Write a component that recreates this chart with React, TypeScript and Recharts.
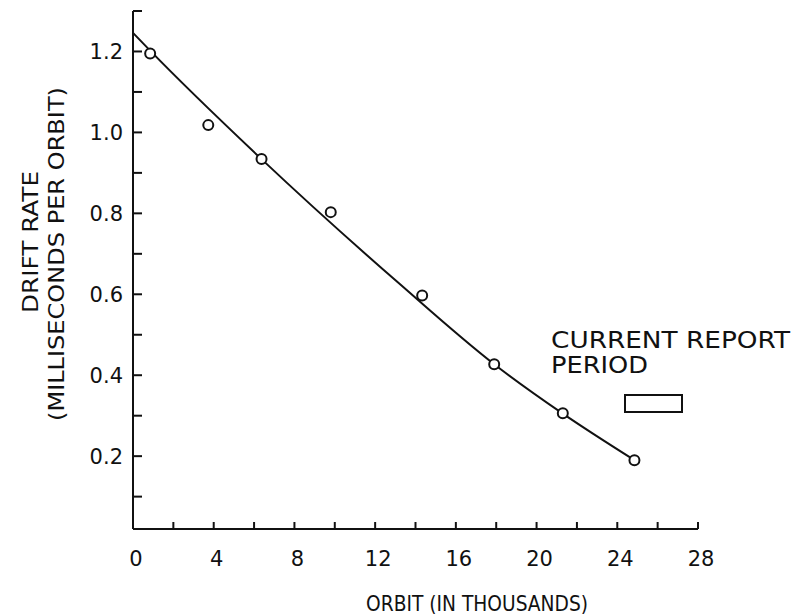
import { ComposedChart, Line, Scatter, XAxis, YAxis } from "recharts";

// observed drift rate (circles)
const obsOrbit = [0.85, 3.73, 6.37, 9.8, 14.33, 17.9, 21.3, 24.85];
const obsRate = [1.195, 1.018, 0.934, 0.803, 0.597, 0.427, 0.306, 0.19];

// faired curve through the observations
const fitOrbit = [0, 0.85, 6.37, 13.18, 17.9, 21.3, 24.85];
const fitRate = [1.246, 1.202, 0.934, 0.627, 0.427, 0.305, 0.19];

const xTicks = [0, 2, 4, 6, 8, 10, 12, 14, 16, 18, 20, 22, 24, 26, 28];
const xLabels = [0, 4, 8, 12, 16, 20, 24, 28];
const yTicks = [0.1, 0.2, 0.3, 0.4, 0.5, 0.6, 0.7, 0.8, 0.9, 1.0, 1.1, 1.2, 1.3];
const yLabels = [0.2, 0.4, 0.6, 0.8, 1.0, 1.2];

const observed = obsOrbit.map((orbit, i) => ({ orbit, rate: obsRate[i] }));
const fitted = fitOrbit.map((orbit, i) => ({ orbit, rate: fitRate[i] }));

const INK = "#111";
const FONT = "'DejaVu Sans', sans-serif";

const has = (list: number[], v: number) => list.some((t) => Math.abs(t - v) < 1e-6);

function XTick({ x, y, payload }: any) {
  const v = payload.value;
  return (
    <g>
      <line x1={x} x2={x} y1={y} y2={y - 7} stroke={INK} strokeWidth={2} />
      {has(xLabels, v) && (
        <text x={x + 3} y={y + 37} textAnchor="middle" fontSize={21} fontFamily={FONT} fill={INK}>
          {v}
        </text>
      )}
    </g>
  );
}

function YTick({ x, y, payload }: any) {
  const v = payload.value;
  return (
    <g>
      <line x1={x} x2={x + 9} y1={y} y2={y} stroke={INK} strokeWidth={2} />
      {has(yLabels, v) && (
        <text x={x - 10} y={y} dy="0.36em" textAnchor="end" fontSize={21} fontFamily={FONT} fill={INK}>
          {v.toFixed(1)}
        </text>
      )}
    </g>
  );
}

function Ring({ cx, cy }: any) {
  return <circle cx={cx} cy={cy} r={5} fill="#fff" stroke={INK} strokeWidth={2} />;
}

export default function App() {
  return (
    <div style={{ position: "absolute", left: 0, top: 0, width: 797, height: 616, background: "#fff" }}>
      <ComposedChart
        width={797}
        height={616}
        margin={{ top: 11, right: 99, left: 73, bottom: 37 }}
      >
        <XAxis
          dataKey="orbit"
          type="number"
          domain={[0, 28]}
          ticks={xTicks}
          interval={0}
          tickSize={0}
          tickMargin={0}
          tickLine={false}
          tick={<XTick />}
          axisLine={{ stroke: INK, strokeWidth: 2 }}
          height={50}
          allowDataOverflow
        />
        <YAxis
          dataKey="rate"
          type="number"
          domain={[0.02, 1.3]}
          ticks={yTicks}
          interval={0}
          tickSize={0}
          tickMargin={0}
          tickLine={false}
          tick={<YTick />}
          axisLine={{ stroke: INK, strokeWidth: 2 }}
          width={60}
          allowDataOverflow
        />
        <Line
          data={fitted}
          dataKey="rate"
          type="monotone"
          stroke={INK}
          strokeWidth={2}
          dot={false}
          activeDot={false}
          isAnimationActive={false}
        />
        <Scatter data={observed} dataKey="rate" shape={<Ring />} isAnimationActive={false} />
      </ComposedChart>
      <svg
        width={797}
        height={616}
        style={{ position: "absolute", left: 0, top: 0, pointerEvents: "none" }}
        fontFamily={FONT}
        fill={INK}
      >
        <text transform="translate(38,242) rotate(-90)" textAnchor="middle" fontSize={22} textLength={142} lengthAdjust="spacingAndGlyphs">
          DRIFT RATE
        </text>
        <text transform="translate(64,254) rotate(-90)" textAnchor="middle" fontSize={22} textLength={334} lengthAdjust="spacingAndGlyphs">
          (MILLISECONDS PER ORBIT)
        </text>
        <text x={366} y={611} fontSize={22} textLength={222} lengthAdjust="spacingAndGlyphs">
          ORBIT (IN THOUSANDS)
        </text>
        <text x={551} y={348} fontSize={23} textLength={239} lengthAdjust="spacingAndGlyphs">
          CURRENT REPORT
        </text>
        <text x={551} y={373} fontSize={23} textLength={97} lengthAdjust="spacingAndGlyphs">
          PERIOD
        </text>
        <rect x={625} y={395} width={57} height={17} fill="#fff" stroke={INK} strokeWidth={2} />
      </svg>
    </div>
  );
}
